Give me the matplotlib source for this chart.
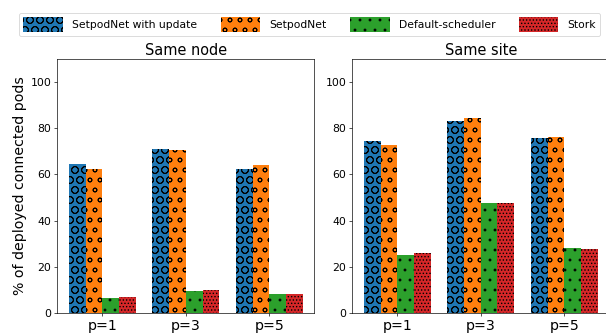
import matplotlib
matplotlib.use("Agg")
import matplotlib.pyplot as plt
import numpy as np

groups = ["p=1", "p=3", "p=5"]
series = ["SetpodNet with update", "SetpodNet", "Default-scheduler", "Stork"]
colors = ["#1f77b4", "#ff7f0e", "#2ca02c", "#d62728"]
hatches = ["O", "o", ".", "..."]

same_node = {
    "SetpodNet with update": [64.6, 71.2, 62.3],
    "SetpodNet": [62.3, 70.6, 64.1],
    "Default-scheduler": [6.5, 9.4, 8.1],
    "Stork": [6.8, 10.0, 8.0],
}
same_site = {
    "SetpodNet with update": [74.5, 83.0, 75.8],
    "SetpodNet": [72.9, 84.4, 76.1],
    "Default-scheduler": [25.1, 47.4, 28.1],
    "Stork": [26.0, 47.7, 27.8],
}
titles = ["Same node", "Same site"]
ylabel = "% of deployed connected pods"

DPI = 60
fig = plt.figure(figsize=(606 / DPI, 335 / DPI), dpi=DPI)
ax1 = fig.add_axes([0.0946, 0.0666, 0.4241, 0.7564])
ax2 = fig.add_axes([0.5813, 0.0666, 0.4241, 0.7564])

x = np.arange(len(groups))
w = 0.2
handles = []
for ax, data, title in zip([ax1, ax2], [same_node, same_site], titles):
    for i, s in enumerate(series):
        b = ax.bar(x + (i - 1.5) * w, data[s], w, color=colors[i], hatch=hatches[i], label=s)
        if ax is ax1:
            handles.append(b)
    ax.set_xticks(x)
    ax.set_xticklabels(groups, fontsize=17)
    ax.set_ylim(0, 110)
    ax.set_yticks([0, 20, 40, 60, 80, 100])
    ax.tick_params(axis="y", labelsize=13)
    ax.set_title(title, fontsize=17.4, pad=5)

ax1.set_ylabel(ylabel, fontsize=17)

fig.legend(handles, series, loc="upper center", bbox_to_anchor=(0.511, 0.978), ncol=4,
           fontsize=12.9, handlelength=3.7, handleheight=1.7, columnspacing=2.17,
           handletextpad=0.84, frameon=True)

fig.savefig("out.png", dpi=DPI)
